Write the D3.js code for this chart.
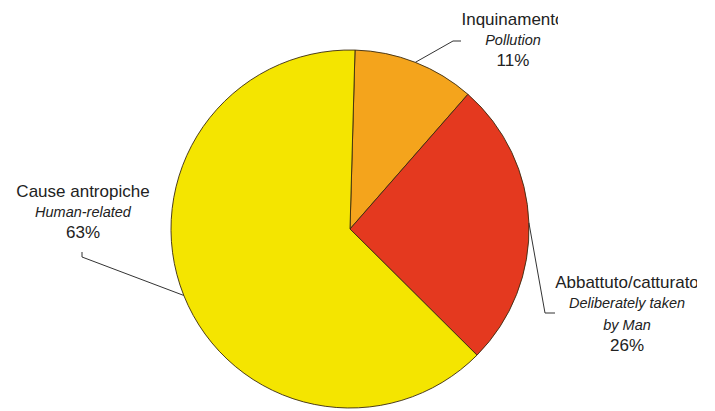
<!DOCTYPE html>
<html><head><meta charset="utf-8">
<script src="https://cdn.jsdelivr.net/npm/d3@7/dist/d3.min.js"></script>
<style>
html,body{margin:0;padding:0;background:#fff;}
text{font-family:"Liberation Sans",Arial,sans-serif;fill:#222;}
</style></head>
<body>
<svg id="chart" width="715" height="411"></svg>
<script>
// ---- data ----
const labelsIt = ["Inquinamento", "Abbattuto/catturato", "Cause antropiche"];
const labelsEn = [["Pollution"], ["Deliberately taken", "by Man"], ["Human-related"]];
const values = [11, 26, 63];
const colors = ["#F4A41C", "#E4391F", "#F4E500"];

// ---- layout ----
const W = 715, H = 411;
const cx = 350, cy = 229, R = 179;
const startAngle = 0.028;
// label layout: center x, first baseline y, leader elbow points, clip right edge
const labelLayout = [
  {x: 513, y: 25, elbow: [[453, 41], [461, 41]], clipR: 558},
  {x: 627, y: 288, elbow: [[545, 313], [555, 313]], clipR: 697},
  {x: 83,  y: 197, elbow: [[82, 257], [82, 252]], clipR: 715}
];

const svg = d3.select("#chart");
const g = svg.append("g").attr("transform", `translate(${cx},${cy})`);

const pie = d3.pie().sort(null).value(d => d).startAngle(startAngle).endAngle(startAngle + 2 * Math.PI);
const arcs = pie(values);
const arc = d3.arc().innerRadius(0).outerRadius(R);

g.selectAll("path.slice").data(arcs).enter().append("path")
  .attr("class", "slice")
  .attr("d", arc)
  .attr("fill", (d, i) => colors[i])
  .attr("stroke", "#3a2a10")
  .attr("stroke-width", 0.9)
  .attr("stroke-linejoin", "round");

// leader lines
arcs.forEach((a, i) => {
  const mid = (a.startAngle + a.endAngle) / 2;
  const p0 = [cx + R * Math.sin(mid), cy - R * Math.cos(mid)];
  const pts = [p0].concat(labelLayout[i].elbow);
  svg.append("path")
    .attr("d", d3.line()(pts))
    .attr("fill", "none")
    .attr("stroke", "#333")
    .attr("stroke-width", 1);
});

// labels
const defs = svg.append("defs");
arcs.forEach((a, i) => {
  const L = labelLayout[i];
  defs.append("clipPath").attr("id", "clip" + i)
    .append("rect").attr("x", 0).attr("y", 0).attr("width", L.clipR).attr("height", H);
  const tg = svg.append("g").attr("clip-path", `url(#clip${i})`);
  let y = L.y;
  tg.append("text").attr("x", L.x).attr("y", y).attr("text-anchor", "middle")
    .attr("font-size", 17).text(labelsIt[i]);
  labelsEn[i].forEach(t => {
    y += (y === L.y ? 19.5 : 22);
    tg.append("text").attr("x", L.x).attr("y", y).attr("text-anchor", "middle")
      .attr("font-size", 14.5).attr("font-style", "italic").text(t);
  });
  y += 21;
  tg.append("text").attr("x", L.x).attr("y", y).attr("text-anchor", "middle")
    .attr("font-size", 17).text(values[i] + "%");
});
</script>
</body></html>
